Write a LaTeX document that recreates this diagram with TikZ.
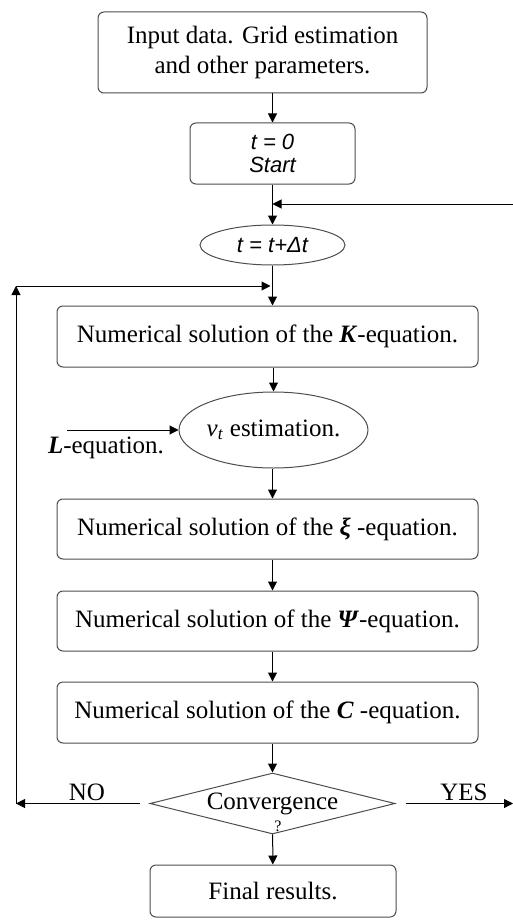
\documentclass[tikz,border=0pt]{standalone}
\usepackage{fontspec}
\setmainfont{Liberation Serif}
\setsansfont{Liberation Sans}
\usetikzlibrary{arrows.meta,shapes.geometric}
\definecolor{boxline}{HTML}{4D4D4D}

\begin{document}
\begin{tikzpicture}[x=0.5pt,y=-0.5pt,line width=0.5pt,
  >={Triangle[length=4.5pt,width=4.5pt]},
  every node/.style={font=\fontsize{12.5}{15}\selectfont,inner sep=0pt},
  block/.style={draw=boxline,rounded corners=3pt,align=center},
  ovalbox/.style={draw=boxline,ellipse},
  decide/.style={draw=boxline,diamond,aspect=4},
  tvar/.style={font=\fontsize{11}{11.5}\selectfont\sffamily\itshape,align=center}]

  \useasboundingbox (0,0) rectangle (513,920);

  % main column
  \node[block,minimum width=164.5pt,minimum height=40.5pt] (in_data) at (262.5,52.5) {Input data. Grid estimation\\ and other parameters.};
  \node[block,tvar,minimum width=82.5pt,minimum height=30.5pt] (t_0) at (272.5,153.5) {t = 0\\Start};
  \node[ovalbox,tvar,minimum width=72.5pt,minimum height=20pt] (step) at (272.5,245) {t = t+Δt};
  \node[block,minimum width=210.5pt,minimum height=30.5pt] (k_eq) at (267.5,336.5) {Numerical solution of the \textbf{\textit{K}}-equation.};
  \node[ovalbox,minimum width=93.5pt,minimum height=38pt] (nu_t) at (273.5,430) {\textit{ν\textsubscript{t}} estimation.};
  \node[block,minimum width=210.5pt,minimum height=30pt] (xi_eq) at (267.5,529) {Numerical solution of the \textbf{\textit{ξ}} -equation.};
  \node[block,minimum width=210.5pt,minimum height=30pt] (psi_eq) at (267.5,621) {Numerical solution of the \textbf{\textit{Ψ}}-equation.};
  \node[block,minimum width=210.5pt,minimum height=30.5pt] (c_eq) at (267.5,712.5) {Numerical solution of the \textbf{\textit{C}} -equation.};
  \node[decide,minimum width=122.5pt,minimum height=30.5pt] (conv) at (272.5,803.5) {Convergence};
  \node[font=\fontsize{8}{8}\selectfont] (conv_q) at (278,826) {?};
  \node[block,minimum width=123pt,minimum height=26pt] (final) at (273,891) {Final results.};

  % side labels
  \node (l_eq) at (106,448) {\textbf{\textit{L}}-equation.};
  \node (no_lbl) at (87,792) {NO};
  \node (yes_lbl) at (464,792) {YES};

  \coordinate (back_in) at (513,204);
  \coordinate (loop_top) at (16,286);
  \coordinate (loop_bot) at (16,803.5);
  \coordinate (yes_end) at (513,803.5);
  \coordinate (l_start) at (67,430);

  \draw[->] (in_data.south -| t_0) -- (t_0.north);
  \draw[->] (t_0) -- (step);
  \draw[->] (back_in) -- (back_in -| t_0);
  \draw[->] (step) -- (step |- k_eq.north);
  \draw[->] (k_eq.south -| nu_t) -- (nu_t.north);
  \draw[->] (l_start) -- (nu_t.west);
  \draw[->] (nu_t.south -| conv) -- (xi_eq.north -| conv);
  \draw[->] (xi_eq.south -| conv) -- (psi_eq.north -| conv);
  \draw[->] (psi_eq.south -| conv) -- (c_eq.north -| conv);
  \draw[->] (c_eq.south -| conv) -- (conv);
  \draw[->] (conv) -- (final);
  \draw[->,shorten <=5pt] (conv.west) -- (loop_bot);
  \draw[->] (loop_bot) -- (loop_top);
  \draw[->,shorten >=1pt] (loop_top) -- (loop_top -| step);
  \draw[->,shorten <=5pt] (conv.east) -- (yes_end);
\end{tikzpicture}
\end{document}
